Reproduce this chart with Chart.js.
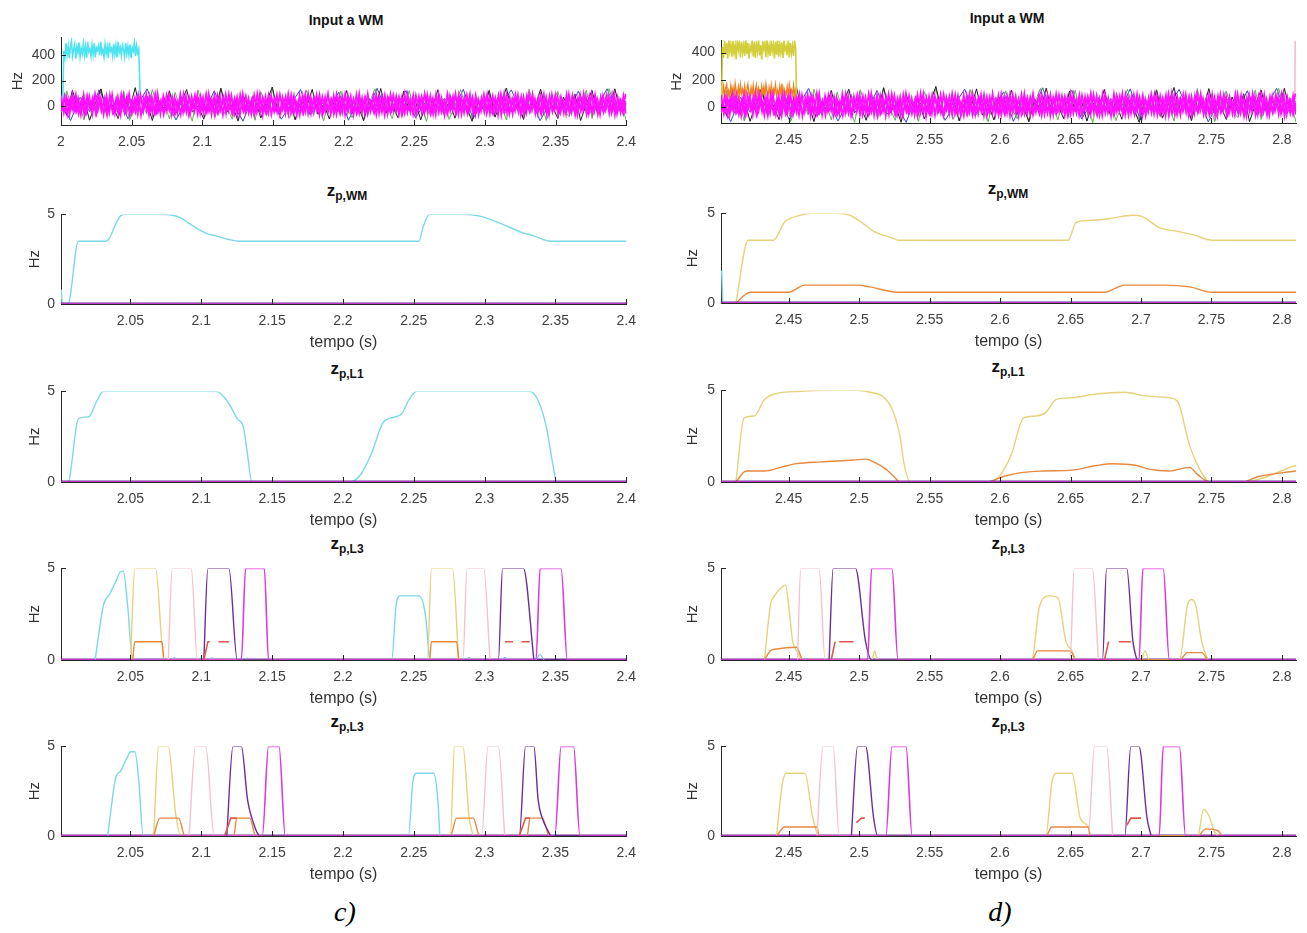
<!DOCTYPE html>
<html>
<head>
<meta charset="utf-8">
<script src="https://cdn.jsdelivr.net/npm/chart.js@4.4.1/dist/chart.umd.min.js"></script>
<style>
  html, body { margin: 0; padding: 0; background: #fff; }
  body { width: 1307px; height: 933px; position: relative; overflow: hidden; font-family: "Liberation Sans", Arial, sans-serif; }
  canvas { position: absolute; }
  .ttl { position: absolute; transform: translateX(-50%); font-weight: bold; font-size: 14px; line-height: 16px; color: #111; white-space: nowrap; }
  .ttl .z { font-size: 17px; }
  .ttl sub { font-size: 12px; vertical-align: -4px; }
  .tag { position: absolute; transform: translateX(-50%); font-family: "Liberation Serif", "Times New Roman", serif; font-style: italic; font-size: 28px; line-height: 32px; }
</style>
</head>
<body>
<div class="ttl" style="left:346px; top:12px;">Input a WM</div>
<div class="ttl" style="left:1007px; top:10px;">Input a WM</div>
<div class="ttl" style="left:347px; top:183px;"><span class="z">z</span><sub>p,WM</sub></div>
<div class="ttl" style="left:1008px; top:181px;"><span class="z">z</span><sub>p,WM</sub></div>
<div class="ttl" style="left:347px; top:361px;"><span class="z">z</span><sub>p,L1</sub></div>
<div class="ttl" style="left:1008px; top:359px;"><span class="z">z</span><sub>p,L1</sub></div>
<div class="ttl" style="left:347px; top:536px;"><span class="z">z</span><sub>p,L3</sub></div>
<div class="ttl" style="left:1008px; top:536px;"><span class="z">z</span><sub>p,L3</sub></div>
<div class="ttl" style="left:347px; top:714px;"><span class="z">z</span><sub>p,L3</sub></div>
<div class="ttl" style="left:1008px; top:714px;"><span class="z">z</span><sub>p,L3</sub></div>
<div class="tag" style="left:345px; top:896px;">c)</div>
<div class="tag" style="left:1000px; top:896px;">d)</div>

<script>
// ---- tick labels ----
const ticksC1 = [2, 2.05, 2.1, 2.15, 2.2, 2.25, 2.3, 2.35, 2.4];
const ticksC = [2.05, 2.1, 2.15, 2.2, 2.25, 2.3, 2.35, 2.4];
const ticksD = [2.45, 2.5, 2.55, 2.6, 2.65, 2.7, 2.75, 2.8];
const ticksInput = [0, 200, 400];
const ticksZ = [0, 5];

// ---- input noise (Hz), read approximately ----
const noiseMagenta = [
  12,-35,48,-20,55,-42,8,63,-51,27,-8,41,-60,33,-15,52,-38,19,-47,61,
  -22,37,-55,14,46,-31,58,-9,-44,25,66,-40,3,-58,35,-18,50,-27,9,-49,
  44,-12,57,-36,21,-62,39,-5,53,-29,16,-46,62,-20,31,-53,6,47,-33,24,
  -57,42,-3,55,-41,18,-25,60,-48,11,38,-16,-61,29,51,-37,7,-52,45,-10,
  34,-45,59,-23,13,-56,48,-34,2,64,-28,36,-50,20,-7,54,-43,26,-59,40,
  -14,57,-32,5,-48,43,-19,61,-39,15,-54,32,-2,49,-26,58,-45,10,-35,52,
  -60,23,46,-17,37,-51,4,56,-30,19,-63,41,-11,53,-24,30,-47,63,-6,-38,
  45,-21,28,-58,50,-13,35,-42,8,62,-33,17,-55,47,-4,39,-49,22,-28,59,
  -16,44,-53,31,1,-40,56,-25,13,-61,38,-9,52,-36,27,-50,60,-18,33,-46,
  21,-57,49,-7,40,-31,14,-52,58,-22,35,-43,6,54,-39,24,-12,47,-56,30
];
const noiseMagentaB = [
  85,-50,70,-60,92,-35,60,-65,88,-45,75,-58,95,-30,66,-62,80,-48,90,-55,
  72,-64,86,-40,94,-52,62,-60,82,-38,90,-66,70,-46,96,-58,78,-34,86,-62,
  64,-50,92,-44,80,-65,74,-36,88,-56,68,-48,94,-60,84,-42,76,-64,90,-32,
  82,-54,70,-62,96,-46,60,-58,86,-40,92,-66,74,-50,80,-36,88,-60,66,-52,
  94,-44,78,-64,84,-38,90,-56,62,-48,86,-62,72,-34,96,-54,80,-60,68,-46,
  90,-40,76,-64,88,-50,64,-58,94,-36,82,-62,70,-44,86,-56,92,-30,78,-60,
  66,-52,90,-42,84,-64,72,-48,96,-38,80,-58,88,-46,62,-66,94,-34,76,-54,
  86,-60,70,-40,92,-50,82,-62,64,-44,90,-56,78,-36,84,-64,96,-48,68,-58,
  88,-42,74,-60,80,-34,94,-54,66,-46,90,-62,76,-38,86,-58,70,-50,92,-44,
  82,-64,64,-36,96,-56,78,-48,88,-60,72,-40,84,-52,90,-66,68,-46,80,-58
];
const noiseMagentaC = [
  -40,78,-62,55,-30,90,-55,40,-66,82,-20,70,-50,95,-35,60,-64,86,-45,30,
  -58,92,-25,74,-60,50,-42,88,-66,64,-32,80,-52,96,-38,45,-62,84,-28,72,
  -56,35,-64,90,-44,68,-20,86,-58,76,-48,94,-36,52,-66,82,-30,70,-54,92,
  -40,60,-62,88,-26,78,-50,40,-64,96,-46,66,-34,84,-60,56,-42,90,-22,74,
  -58,86,-48,32,-66,80,-38,94,-54,62,-30,88,-62,70,-44,50,-56,92,-28,76,
  -64,84,-36,58,-50,96,-42,68,-60,36,-24,90,-54,78,-66,64,-40,86,-32,72,
  -58,94,-46,52,-62,82,-20,74,-52,88,-38,60,-64,92,-44,40,-56,80,-30,96,
  -60,66,-48,86,-26,70,-64,54,-36,90,-52,78,-42,62,-66,94,-22,84,-58,44,
  -34,88,-62,72,-46,96,-30,58,-56,82,-40,68,-64,90,-24,76,-50,38,-60,92,
  -44,64,-66,86,-32,74,-54,94,-38,56,-62,80,-28,70,-48,88,-58,46,-36,96
];
const noiseBlack = [
  40,-70,125,-30,60,-108,20,135,-55,10,-95,70,-20,145,-60,35,-110,55,-15,120,
  -65,25,130,-45,5,-100,65,-35,140,-50,15,-115,75,-25,50,-90,30,150,-40,0,
  60,-105,45,-10,132,-62,18,-98,70,-30,122,-55,8,-112,58,-22,138,-48,12,-88,
  116,-36,52,-106,28,-14,128,-58,40,-92,66,-4,-116,48,-26,120,-84,22,142,-44,
  34,-102,62,-18,134,-52,6,-94,72,-32,96,-110,16,124,-60,42,-8,136,-46,26
];
const noiseGreen = [
  -50,120,-20,65,-105,30,-10,135,-70,45,-35,115,-110,20,55,-60,130,-15,38,-98,
  108,-42,12,-115,125,-28,50,-85,140,-5,-100,60,-38,25,-108,112,-12,132,-55,35,
  -92,48,-22,126,-58,14,-112,66,-32,118,-8,-88,54,-104,28,136,-46,18,-96,62,
  -26,122,-62,40,-118,70,-16,52,-102,10,130,-36,-90,58,-4,128,-52,30,-106,74,
  8,-84,134,-40,46,-110,22,116,-30,-80,64,-12,124,-94,36,-50,138,-20,56,-114
];
const noiseBlue = [
  30,-110,70,-40,125,-20,55,-95,15,135,-60,40,-105,25,65,-35,120,-55,10,-115,
  75,-30,50,-100,20,130,-65,35,-10,110,-108,45,-25,140,-50,5,122,-90,28,-45,
  60,-15,132,-98,38,-58,12,128,-42,66,-112,22,54,-34,118,-62,8,136,-52,44
];
const burstCyan = [
  430,380,490,400,470,375,455,505,390,440,480,370,460,420,495,385,450,410,485,395,
  465,375,500,425,445,390,475,405,490,380,455,435,470,395,500,415,440,385,480,410,
  460,375,495,430,450,390,485,405,470,380,500,420,455,395,475,440,385,490,410,465,
  400,480,375,455,430,495,390,470,415,445
];
const burstYellow = [
  440,360,490,385,470,355,500,410,465,370,485,395,455,350,495,420,475,365,480,400,
  460,375,500,390,470,355,445,415,490,370,480,360,465,405,495,380,455,350,485,425,
  470,365,500,395,450,375,490,410,460,355,480,385,495,370,465,400,475,360,490,415,
  445,380,500,365,470,395,455,375,485,430
];
const burstOrange = [
  95,150,75,135,165,85,120,70,155,100,140,80,170,110,90,145,75,160,95,130,
  85,150,70,125,165,100,80,140,90,155,75,120,160,85,135,105,70,150,95,145,
  80,165,110,75,140,90,155,70,130,100,160,85,120,75,150,95,170,80,135,105,
  90,145,75,160,100,125,85,155,70,140
];

// ---- c) z_p,WM ----
const cWmCyan = [[2.0012,0.8],[2.0018,0],[2.0059,0],[2.0133,3.5],[2.0324,3.5],[2.0354,3.7],[2.0398,4.5],[2.0428,4.9],[2.0457,5.0],[2.0693,5.0],[2.0796,4.95],[2.0855,4.8],[2.0914,4.5],[2.0973,4.2],[2.1047,3.9],[2.1106,3.8],[2.1195,3.6],[2.1268,3.5],[2.2537,3.5],[2.2566,4.3],[2.2611,5.0],[2.2847,5.0],[2.2965,4.9],[2.3112,4.5],[2.3260,4.0],[2.3348,3.8],[2.3466,3.5],[2.4,3.5]];
// ---- c) z_p,L1 ----
const cL1Cyan = [[2.001,0],[2.0059,0],[2.0133,3.5],[2.0206,3.6],[2.0265,4.5],[2.0310,5],[2.1106,5],[2.1180,4.5],[2.1254,3.5],[2.1298,3.0],[2.1327,1.5],[2.1357,0],[2.2050,0],[2.2124,0.4],[2.2198,1.5],[2.2286,3.3],[2.2375,3.6],[2.2419,3.8],[2.2463,4.5],[2.2522,5],[2.3319,5],[2.3378,4.5],[2.3437,3.0],[2.3481,1.0],[2.3510,0],[2.4,0]];
// ---- c) z_p,L3 (first) ----
const cL3aCyan = [[2.0251,0],[2.0310,3.0],[2.0354,3.6],[2.0398,4.3],[2.0428,4.8],[2.0450,4.85],[2.0480,3.0],[2.0516,0],[2.2345,0],[2.2375,3.0],[2.2404,3.5],[2.2537,3.5],[2.2581,2.5],[2.2611,0]];
const cL3aYellow = [[2.0501,0],[2.0531,5],[2.0678,5],[2.0737,0],[2.2596,0],[2.2625,5],[2.2773,5],[2.2817,0]];
const cL3aOrange = [[2.0516,0],[2.0531,1],[2.0723,1],[2.0737,0],[2.2611,0],[2.2625,1],[2.2802,1],[2.2817,0]];
const cL3aPink = [[2.0767,0],[2.0796,5],[2.0929,5],[2.0973,0],[2.2847,0],[2.2876,5],[2.2994,5],[2.3038,0]];
const cL3aPurple = [[2.1018,0],[2.1047,5],[2.1195,5],[2.1254,0],[2.3097,0],[2.3127,5],[2.3274,5],[2.3348,0]];
const cL3aRed = [[2.1018,0],[2.1047,1],[2.1060,1],[2.1080,null],[2.1121,1],[2.1195,1],[2.2,null],[2.3142,1],[2.3201,1],[2.3230,null],[2.3260,1],[2.3319,1]];
const cL3aBlue = [[2.079,0],[2.0811,0.12],[2.083,0],[2.106,0],[2.1077,0.12],[2.110,0],[2.131,0],[2.1327,0.1],[2.135,0],[2.287,0],[2.2891,0.15],[2.291,0],[2.312,0],[2.3142,0.15],[2.317,0],[2.336,0],[2.339,0.3],[2.342,0]];
const cL3aMagenta = [[2.001,0],[2.1283,0],[2.1313,5],[2.1445,5],[2.1475,0],[2.3363,0],[2.3392,5],[2.3540,5],[2.3584,0],[2.4,0]];
// ---- c) z_p,L3 (second) ----
const cL3bCyan = [[2.0339,0],[2.0398,3.3],[2.0428,3.6],[2.0472,4.3],[2.0501,4.7],[2.0531,4.7],[2.0560,3.0],[2.0590,0],[2.2463,0],[2.2493,3.0],[2.2522,3.5],[2.2640,3.5],[2.2670,2.0],[2.2684,0]];
const cL3bYellow = [[2.0664,0],[2.0699,5],[2.0767,5],[2.0820,1.2],[2.0855,0],[2.2758,0],[2.2788,5],[2.2847,5],[2.2891,1.0],[2.2920,0]];
const cL3bOrange = [[2.0664,0],[2.0708,1],[2.0841,1],[2.0885,0],[2.1230,0],[2.1250,1],[2.1342,1],[2.1386,0],[2.2758,0],[2.2802,1],[2.2920,1],[2.2965,0],[2.3300,0],[2.3320,1],[2.3407,1],[2.3451,0]];
const cL3bPink = [[2.0914,0],[2.0959,5],[2.1032,5],[2.1091,0],[2.2979,0],[2.3024,5],[2.3097,5],[2.3142,0]];
const cL3bPurple = [[2.1180,0],[2.1224,5],[2.1283,5],[2.1327,2],[2.1357,1],[2.1416,0],[2.3245,0],[2.3289,5],[2.3348,5],[2.3378,2],[2.3407,1],[2.3466,0]];
const cL3bRed = [[2.1165,0],[2.1209,1],[2.1250,1],[2.2,null],[2.3245,0],[2.3289,1],[2.3320,1]];
const cL3bMagenta = [[2.001,0],[2.1431,0],[2.1475,5],[2.1549,5],[2.1593,0],[2.3496,0],[2.3540,5],[2.3628,5],[2.3673,0],[2.4,0]];

// ---- d) z_p,WM ----
const dWmYellow = [[2.4126,0],[2.4213,3.5],[2.4391,3.5],[2.4471,4.5],[2.4586,4.9],[2.4658,5.0],[2.4845,5.0],[2.4931,4.9],[2.5017,4.5],[2.5103,4.0],[2.5247,3.6],[2.5276,3.5],[2.6483,3.5],[2.6540,4.5],[2.6626,4.6],[2.6770,4.7],[2.6943,4.9],[2.7000,4.85],[2.7057,4.6],[2.7129,4.2],[2.7259,4.0],[2.7374,3.8],[2.7503,3.5],[2.81,3.5]];
const dWmOrange = [[2.4126,0],[2.4227,0.6],[2.45,0.6],[2.4615,1.0],[2.4989,1.0],[2.5075,0.9],[2.5276,0.6],[2.6741,0.6],[2.6885,1.0],[2.7172,1.0],[2.7345,0.9],[2.7503,0.6],[2.81,0.6]];
const dWmCyan = [[2.4025,1.8],[2.4032,0]];
// ---- d) z_p,L1 ----
const dL1Yellow = [[2.4126,0],[2.4184,3.5],[2.4256,3.6],[2.4328,4.5],[2.4399,4.8],[2.4586,4.95],[2.4787,5.0],[2.4989,5.0],[2.5075,4.9],[2.5161,4.7],[2.5233,4.0],[2.5290,2.5],[2.5319,1.0],[2.5362,0],[2.5908,0],[2.5994,0.3],[2.6080,1.5],[2.6167,3.5],[2.6253,3.6],[2.6325,3.8],[2.6397,4.5],[2.6511,4.6],[2.6684,4.8],[2.6885,4.9],[2.7029,4.7],[2.7201,4.6],[2.7259,4.4],[2.7345,2.0],[2.7431,0.5],[2.7489,0],[2.7718,0],[2.81,0.9]];
const dL1Orange = [[2.4126,0],[2.4198,0.6],[2.4328,0.6],[2.4443,0.8],[2.4557,1.0],[2.4730,1.1],[2.4960,1.2],[2.5046,1.25],[2.5103,1.1],[2.5190,0.7],[2.5247,0.3],[2.5290,0],[2.5908,0],[2.6023,0.3],[2.6138,0.5],[2.6310,0.6],[2.6511,0.65],[2.6684,0.9],[2.6799,1.0],[2.6971,0.9],[2.7057,0.7],[2.7201,0.6],[2.7345,0.8],[2.7402,0.4],[2.7489,0],[2.7718,0],[2.7833,0.3],[2.81,0.6]];
// ---- d) z_p,L3 (first) ----
const dL3aYellow = [[2.4328,0],[2.4371,3.0],[2.4399,3.5],[2.4457,4.0],[2.4477,4.1],[2.45,3.0],[2.4529,1.0],[2.4557,0.5],[2.4601,0],[2.5089,0],[2.5110,0.5],[2.5132,0],[2.6224,0],[2.6282,3.0],[2.6353,3.5],[2.6411,3.4],[2.6468,1.0],[2.6511,0.5],[2.6540,0],[2.7000,0],[2.7029,0.5],[2.7057,0],[2.7273,0],[2.7330,3.0],[2.7359,3.3],[2.7388,3.0],[2.7431,1.0],[2.7474,0]];
const dL3aOrange = [[2.4328,0],[2.4371,0.5],[2.4414,0.6],[2.4557,0.7],[2.4601,0],[2.6224,0],[2.6267,0.5],[2.6497,0.5],[2.6540,0],[2.7273,0],[2.7330,0.4],[2.7431,0.4],[2.7474,0]];
const dL3aPink = [[2.4563,0],[2.4586,5],[2.4716,5],[2.4759,0],[2.6497,0],[2.6526,5],[2.6655,5],[2.6698,0]];
const dL3aPurple = [[2.4787,0],[2.4816,5],[2.4974,5],[2.5046,1],[2.5089,0],[2.6727,0],[2.6756,5],[2.6899,5],[2.6943,1],[2.6971,0]];
const dL3aRed = [[2.4802,0],[2.4830,1],[2.4845,null],[2.4859,1],[2.4960,1],[2.6,null],[2.6741,0],[2.6770,1],[2.6800,null],[2.6842,1],[2.6928,1]];
const dL3aMagenta = [[2.402,0],[2.5060,0],[2.5089,5],[2.5233,5],[2.5276,0],[2.6986,0],[2.7014,5],[2.7158,5],[2.7201,0],[2.81,0]];
// ---- d) z_p,L3 (second) ----
const dL3bYellow = [[2.4414,0],[2.4457,3.0],[2.4486,3.5],[2.4615,3.5],[2.4672,1.0],[2.4716,0],[2.6325,0],[2.6368,3.0],[2.6397,3.5],[2.6511,3.5],[2.6569,1.0],[2.6626,0.5],[2.6641,0],[2.7402,0],[2.7445,1.5],[2.7489,1.0],[2.7517,0.3],[2.7546,0]];
const dL3bOrange = [[2.4414,0],[2.4471,0.5],[2.4701,0.5],[2.4716,0],[2.6325,0],[2.6368,0.5],[2.6626,0.5],[2.6641,0],[2.7402,0],[2.7460,0.4],[2.7546,0.3],[2.7575,0]];
const dL3bPink = [[2.4701,0],[2.4744,5],[2.4816,5],[2.4859,0],[2.6626,0],[2.6670,5],[2.6756,5],[2.6799,0]];
const dL3bPurple = [[2.4945,0],[2.4989,5],[2.5046,5],[2.5103,1],[2.5132,0],[2.6885,0],[2.6928,5],[2.6986,5],[2.7043,1],[2.7072,0]];
const dL3bRed = [[2.4980,0.75],[2.5017,1.0],[2.5040,1.0],[2.6,null],[2.6900,0.6],[2.6928,1.0],[2.7000,1.0]];
const dL3bMagenta = [[2.402,0],[2.5190,0],[2.5233,5],[2.5333,5],[2.5376,0],[2.7129,0],[2.7158,5],[2.7273,5],[2.7316,0],[2.81,0]];

// ---- colours ----
const COL = {
  cyan: '#7ad9e6', cyanIn: '#4fe3f2', yellow: '#e5d27a', yellowIn: '#d3cf3c',
  orange: '#e8883e', orangeIn: '#f08020', pink: '#f3c3cb', purple: '#6a2f95',
  red: '#e05848', blue: '#8fb0f0', magenta: '#dc3adc', magentaIn: '#ff10ff',
  black: '#1c1c1c', green: '#5cb84a', blueIn: '#2c4cc8', pinkEdge: '#f4a6b8', axis: '#262626'
};
const FONT = '"Liberation Sans", Arial, sans-serif';

function spread(vals, t0, t1) {
  const dt = (t1 - t0) / (vals.length - 1);
  return vals.map((v, i) => [t0 + i * dt, v]);
}
const fmt = v => String(+(+v).toFixed(2));

const inwardTicks = {
  id: 'inwardTicks',
  afterDatasetsDraw(chart) {
    const { ctx, chartArea: a, scales: { x, y } } = chart;
    ctx.save();
    ctx.strokeStyle = COL.axis;
    ctx.lineWidth = 1;
    ctx.beginPath();
    x.ticks.forEach(t => {
      const px = Math.round(x.getPixelForValue(t.value)) + 0.5;
      ctx.moveTo(px, a.bottom); ctx.lineTo(px, a.bottom - 5);
    });
    y.ticks.forEach(t => {
      const py = Math.round(y.getPixelForValue(t.value)) + 0.5;
      ctx.moveTo(a.left, py); ctx.lineTo(a.left + 5, py);
    });
    ctx.stroke();
    ctx.restore();
  }
};

function panel(box, xr, xt, yr, yt, sets, opt) {
  const cv = document.createElement('canvas');
  const W = box.r - box.l + 72, H = box.b - box.t + 64;
  cv.width = W; cv.height = H;
  cv.style.left = (box.l - 60) + 'px';
  cv.style.top = (box.t - 12) + 'px';
  cv.style.width = W + 'px';
  cv.style.height = H + 'px';
  document.body.appendChild(cv);
  const tickFont = { family: FONT, size: 14 };
  new Chart(cv, {
    type: 'line',
    data: {
      datasets: sets.map((s, i) => ({
        data: s.data, borderColor: s.color, borderWidth: s.w || 1.4,
        pointRadius: 0, fill: false, spanGaps: false, order: i,
        tension: 0, cubicInterpolationMode: s.smooth ? 'monotone' : 'default'
      }))
    },
    options: {
      responsive: false, animation: false, events: [],
      layout: { padding: { left: 0, top: 12, right: 12, bottom: 0 } },
      plugins: { legend: { display: false }, tooltip: { enabled: false } },
      scales: {
        x: {
          type: 'linear', min: xr[0], max: xr[1],
          afterBuildTicks: s => { s.ticks = xt.map(v => ({ value: v })); },
          afterFit: s => { s.height = 52; },
          grid: { display: false, drawTicks: false },
          border: { display: true, color: COL.axis, width: 1 },
          ticks: { callback: fmt, font: tickFont, color: '#404040', padding: 9, maxRotation: 0, autoSkip: false },
          title: { display: !!opt.xTitle, text: 'tempo (s)', font: { family: FONT, size: 16 }, color: '#333', padding: { top: 0, bottom: 4 } }
        },
        y: {
          type: 'linear', min: yr[0], max: yr[1],
          afterBuildTicks: s => { s.ticks = yt.map(v => ({ value: v })); },
          afterFit: s => { s.width = 60; },
          grid: { display: false, drawTicks: false },
          border: { display: true, color: COL.axis, width: 1 },
          ticks: { font: tickFont, color: '#404040', padding: 6 },
          title: { display: true, text: 'Hz', font: { family: FONT, size: 15 }, color: '#333', padding: { top: opt.hzPad, bottom: 0 } }
        }
      }
    },
    plugins: [inwardTicks]
  });
}

const L = { l: 61, r: 633 }, R = { l: 721, r: 1296 };
const rowsY = [[212, 304], [389, 482], [566, 660], [744, 836]];
const xC1 = [2.0, 2.4], xC = [2.001, 2.4], xD = [2.402, 2.81];

// ---- row 1: Input a WM ----
panel({ l: L.l, r: L.r, t: 35, b: 125 }, xC1, ticksC1, [-145, 535], ticksInput, [
  { data: spread(noiseMagentaB, 2.0, 2.4), color: COL.magentaIn, w: 1.8 },
  { data: spread(noiseMagentaC, 2.0005, 2.3995), color: COL.magentaIn, w: 1.8 },
  { data: spread(noiseMagenta, 2.001, 2.4), color: COL.magentaIn, w: 1.8 },
  { data: [[2.0012, 20], ...spread(burstCyan, 2.002, 2.055), [2.0562, 30]], color: COL.cyanIn, w: 1.6 },
  { data: spread(noiseBlack, 2.0, 2.4), color: COL.black, w: 1 },
  { data: spread(noiseGreen, 2.0, 2.4), color: COL.green, w: 1 },
  { data: spread(noiseBlue, 2.0, 2.4), color: COL.blueIn, w: 1 }
], { xTitle: false, hzPad: 8 });

panel({ l: R.l, r: R.r, t: 38, b: 123 }, xD, ticksD, [-120, 490], ticksInput, [
  { data: spread(noiseMagentaB, 2.402, 2.81), color: COL.magentaIn, w: 1.8 },
  { data: spread(noiseMagentaC, 2.4025, 2.8095), color: COL.magentaIn, w: 1.8 },
  { data: spread(noiseMagenta, 2.403, 2.81), color: COL.magentaIn, w: 1.8 },
  { data: [[2.4025, 60], ...spread(burstYellow, 2.403, 2.455), [2.4556, 40]], color: COL.yellowIn, w: 1.6 },
  { data: [[2.4025, 20], ...spread(burstOrange, 2.403, 2.455), [2.4556, 20]], color: COL.orangeIn, w: 1.4 },
  { data: [[2.8092, 0], [2.8094, 490]], color: COL.pinkEdge, w: 1.2 },
  { data: spread(noiseBlack, 2.402, 2.81), color: COL.black, w: 1 },
  { data: spread(noiseGreen, 2.402, 2.81), color: COL.green, w: 1 },
  { data: spread(noiseBlue, 2.402, 2.81), color: COL.blueIn, w: 1 }
], { xTitle: false, hzPad: 7 });

// ---- rows 2-5: left (c) ----
const zeroC = [[2.001, 0], [2.4, 0]];
const zeroD = [[2.402, 0], [2.81, 0]];
panel({ l: L.l, r: L.r, t: rowsY[0][0], b: rowsY[0][1] }, xC, ticksC, [0, 5], ticksZ, [
  { data: zeroC, color: COL.magenta, w: 1.6 },
  { data: zeroC, color: COL.purple, w: 3 },
  { data: cWmCyan, color: COL.cyan, smooth: true }
], { xTitle: true, hzPad: 25 });
panel({ l: L.l, r: L.r, t: rowsY[1][0], b: rowsY[1][1] }, xC, ticksC, [0, 5], ticksZ, [
  { data: zeroC, color: COL.magenta, w: 1.6 },
  { data: zeroC, color: COL.purple, w: 3 },
  { data: cL1Cyan, color: COL.cyan, smooth: true }
], { xTitle: true, hzPad: 25 });
panel({ l: L.l, r: L.r, t: rowsY[2][0], b: rowsY[2][1] }, xC, ticksC, [0, 5], ticksZ, [
  { data: cL3aMagenta, color: COL.magenta, w: 1.6, smooth: true },
  { data: cL3aRed, color: COL.red, w: 1.6 },
  { data: cL3aPurple, color: COL.purple, smooth: true },
  { data: cL3aPink, color: COL.pink, smooth: true },
  { data: cL3aOrange, color: COL.orange, smooth: true },
  { data: cL3aYellow, color: COL.yellow, smooth: true },
  { data: cL3aCyan, color: COL.cyan, smooth: true },
  { data: cL3aBlue, color: COL.blue, w: 1.2, smooth: true },
  { data: zeroC, color: COL.purple, w: 3 }
], { xTitle: true, hzPad: 25 });
panel({ l: L.l, r: L.r, t: rowsY[3][0], b: rowsY[3][1] }, xC, ticksC, [0, 5], ticksZ, [
  { data: cL3bMagenta, color: COL.magenta, w: 1.6, smooth: true },
  { data: cL3bRed, color: COL.red, w: 1.6 },
  { data: cL3bPurple, color: COL.purple, smooth: true },
  { data: cL3bPink, color: COL.pink, smooth: true },
  { data: cL3bOrange, color: COL.orange, smooth: true },
  { data: cL3bYellow, color: COL.yellow, smooth: true },
  { data: cL3bCyan, color: COL.cyan, smooth: true },
  { data: zeroC, color: COL.purple, w: 3 }
], { xTitle: true, hzPad: 25 });

// ---- rows 2-5: right (d) ----
panel({ l: R.l, r: R.r, t: rowsY[0][0] - 1, b: rowsY[0][1] - 1 }, xD, ticksD, [0, 5], ticksZ, [
  { data: zeroD, color: COL.magenta, w: 1.6 },
  { data: zeroD, color: COL.purple, w: 3 },
  { data: dWmOrange, color: COL.orange, smooth: true },
  { data: dWmYellow, color: COL.yellow, smooth: true },
  { data: dWmCyan, color: COL.cyan }
], { xTitle: true, hzPad: 23 });
panel({ l: R.l, r: R.r, t: rowsY[1][0] - 1, b: rowsY[1][1] }, xD, ticksD, [0, 5], ticksZ, [
  { data: zeroD, color: COL.magenta, w: 1.6 },
  { data: zeroD, color: COL.purple, w: 3 },
  { data: dL1Orange, color: COL.orange, smooth: true },
  { data: dL1Yellow, color: COL.yellow, smooth: true }
], { xTitle: true, hzPad: 23 });
panel({ l: R.l, r: R.r, t: rowsY[2][0], b: rowsY[2][1] }, xD, ticksD, [0, 5], ticksZ, [
  { data: dL3aMagenta, color: COL.magenta, w: 1.6, smooth: true },
  { data: dL3aRed, color: COL.red, w: 1.6 },
  { data: dL3aPurple, color: COL.purple, smooth: true },
  { data: dL3aPink, color: COL.pink, smooth: true },
  { data: dL3aOrange, color: COL.orange, smooth: true },
  { data: dL3aYellow, color: COL.yellow, smooth: true },
  { data: zeroD, color: COL.purple, w: 3 }
], { xTitle: true, hzPad: 23 });
panel({ l: R.l, r: R.r, t: rowsY[3][0], b: rowsY[3][1] }, xD, ticksD, [0, 5], ticksZ, [
  { data: dL3bMagenta, color: COL.magenta, w: 1.6, smooth: true },
  { data: dL3bRed, color: COL.red, w: 1.6 },
  { data: dL3bPurple, color: COL.purple, smooth: true },
  { data: dL3bPink, color: COL.pink, smooth: true },
  { data: dL3bOrange, color: COL.orange, smooth: true },
  { data: dL3bYellow, color: COL.yellow, smooth: true },
  { data: zeroD, color: COL.purple, w: 3 }
], { xTitle: true, hzPad: 23 });
</script>
</body>
</html>
